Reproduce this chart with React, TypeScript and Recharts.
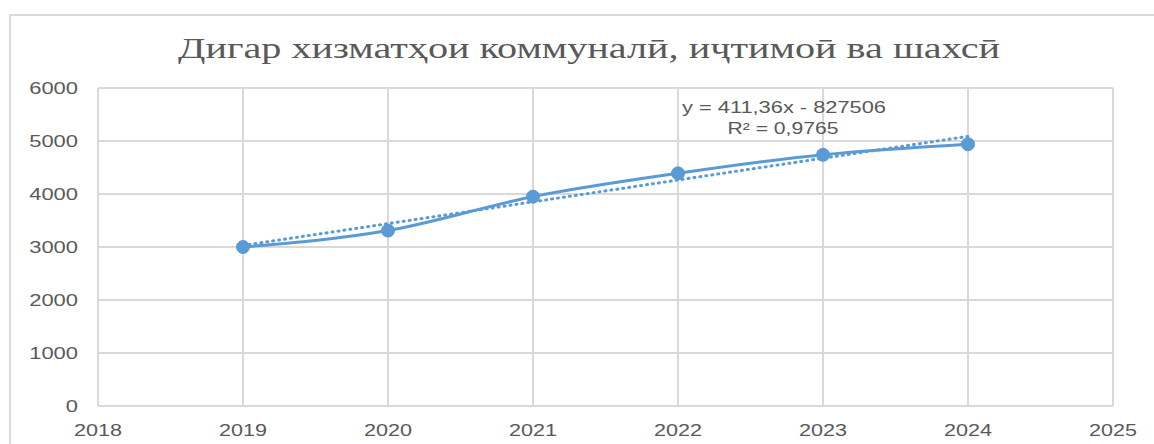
import { CartesianGrid, Line, LineChart, XAxis, YAxis } from "recharts";

const years = [2019, 2020, 2021, 2022, 2023, 2024];
const values = [3000, 3310, 3950, 4390, 4740, 4940];
const trendYears = [2019, 2024];
const trendValues = [3030, 5087];
const xTicks = [2018, 2019, 2020, 2021, 2022, 2023, 2024, 2025];
const yTicks = [0, 1000, 2000, 3000, 4000, 5000, 6000];

const title = "Дигар хизматҳои коммуналӣ, иҷтимоӣ ва шахсӣ";
const equation = "y = 411,36x - 827506";
const rSquared = "R² = 0,9765";

const series = years.map((year, i) => ({ year, value: values[i] }));
const trend = trendYears.map((year, i) => ({ year, trend: trendValues[i] }));

const tickFont = "'Liberation Sans', Arial, sans-serif";
const grey = "#595959";
const blue = "#5b9bd5";

function YTick(props: any) {
  const label = String(props.payload.value);
  return (
    <text
      x={props.x}
      y={props.y}
      textAnchor="end"
      dominantBaseline="central"
      fill={grey}
      fontSize={16}
      fontFamily={tickFont}
      textLength={label.length * 12.2}
      lengthAdjust="spacingAndGlyphs"
    >
      {label}
    </text>
  );
}

function XTick(props: any) {
  const label = String(props.payload.value);
  return (
    <text
      x={props.x}
      y={props.y + 24}
      textAnchor="middle"
      dominantBaseline="central"
      fill={grey}
      fontSize={16}
      fontFamily={tickFont}
      textLength={48}
      lengthAdjust="spacingAndGlyphs"
    >
      {label}
    </text>
  );
}

export default function App() {
  return (
    <div
      style={{
        position: "absolute",
        left: 0,
        top: 0,
        width: 1154,
        height: 444,
        overflow: "hidden",
        background: "#fff",
      }}
    >
      <div
        style={{
          position: "absolute",
          left: 9,
          top: 14,
          width: 1300,
          height: 600,
          border: "2px solid #d9d9d9",
        }}
      />
      <LineChart
        width={1154}
        height={444}
        margin={{ top: 88, right: 41, bottom: 8, left: 0 }}
        style={{ position: "absolute", left: 0, top: 0 }}
      >
        <CartesianGrid stroke="#d9d9d9" strokeWidth={2} />
        <XAxis
          type="number"
          dataKey="year"
          domain={[2018, 2025]}
          ticks={xTicks}
          height={30}
          axisLine={false}
          tickLine={false}
          tickSize={0}
          tickMargin={0}
          tick={<XTick />}
          allowDuplicatedCategory={false}
        />
        <YAxis
          type="number"
          domain={[0, 6000]}
          ticks={yTicks}
          width={98}
          axisLine={false}
          tickLine={false}
          tickSize={0}
          tickMargin={20}
          tick={<YTick />}
        />
        <Line
          data={trend}
          dataKey="trend"
          type="linear"
          stroke={blue}
          strokeWidth={3}
          strokeDasharray="1 5"
          strokeLinecap="round"
          dot={false}
          activeDot={false}
          isAnimationActive={false}
        />
        <Line
          data={series}
          dataKey="value"
          type="monotone"
          stroke={blue}
          strokeWidth={3}
          dot={{ r: 6.5, fill: blue, stroke: blue, strokeWidth: 1 }}
          activeDot={false}
          isAnimationActive={false}
        />
      </LineChart>
      <svg
        width={1154}
        height={444}
        style={{ position: "absolute", left: 0, top: 0, pointerEvents: "none" }}
      >
        <text
          x={589}
          y={47}
          textAnchor="middle"
          dominantBaseline="central"
          fill={grey}
          fontSize={30}
          fontFamily="'Liberation Serif', 'Times New Roman', serif"
          textLength={822}
          lengthAdjust="spacingAndGlyphs"
        >
          {title}
        </text>
        <text
          x={784}
          y={107}
          textAnchor="middle"
          dominantBaseline="central"
          fill={grey}
          fontSize={16}
          fontFamily={tickFont}
          textLength={204}
          lengthAdjust="spacingAndGlyphs"
        >
          {equation}
        </text>
        <text
          x={783}
          y={128}
          textAnchor="middle"
          dominantBaseline="central"
          fill={grey}
          fontSize={16}
          fontFamily={tickFont}
          textLength={111}
          lengthAdjust="spacingAndGlyphs"
        >
          {rSquared}
        </text>
      </svg>
    </div>
  );
}
